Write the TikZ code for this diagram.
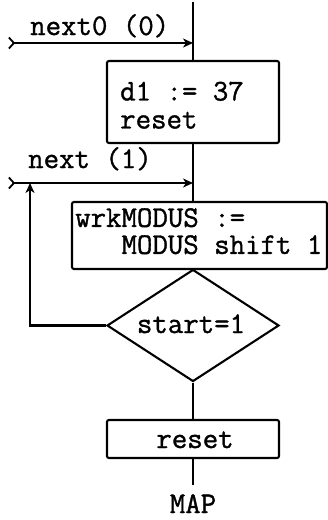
\documentclass[tikz,border=0pt]{standalone}
\usepackage{fontspec}
\setmonofont{Latin Modern Mono}[FakeBold=1.2]
\usetikzlibrary{arrows.meta,shapes.geometric}

\tikzset{
  flow/.style={line width=2.1pt},
  tip/.style={-{Stealth[length=10pt,width=9pt,inset=3pt]}},
  entry/.style={flow, {Straight Barb[reversed,length=5pt,width=11pt,line width=1.8pt]}-{Stealth[length=10pt,width=9pt,inset=3pt]}},
  stepbox/.style={draw, line width=2.1pt, rounded corners=2pt, inner sep=0pt},
  decision/.style={draw, diamond, line width=2.1pt, inner sep=0pt},
  txt/.style={font=\ttfamily\fontsize{30pt}{33pt}\selectfont, inner sep=0pt, anchor=base west},
  block/.style={txt, align=left, anchor=north west},
}

\begin{document}
\begin{tikzpicture}[x=1pt, y=-1pt]
  \useasboundingbox (0,0) rectangle (328,520);

  % processing steps
  \node[stepbox, minimum width=172pt, minimum height=82pt] (b1) at (193,102) {};
  \node[stepbox, minimum width=255pt, minimum height=67pt] (b2) at (199.5,235.5) {};
  \node[decision, minimum width=172pt, minimum height=112pt] (d1) at (193,325.5) {};
  \node[stepbox, minimum width=172pt, minimum height=38pt] (b3) at (193,439) {};

  % texts
  \node[txt] (l0) at (30,35) {next0 (0)};
  \node[block, font=\ttfamily\fontsize{30pt}{28pt}\selectfont] (t1) at (120,81.5)
    {d1 := 37\\reset};
  \node[txt] (l1) at (28,168) {next (1)};
  \node[block, font=\ttfamily\fontsize{30pt}{27pt}\selectfont] (t3) at (75,208)
    {wrkMODUS :=\\\phantom{MMM}MODUS shift 1};
  \node[txt, anchor=base] (t5) at (191,333) {start=1};
  \node[txt, anchor=base] (t6) at (195,448) {reset};
  \node[txt, anchor=base] (map) at (193,513) {MAP};

  % connector points
  \coordinate (top) at (193,2);
  \coordinate (in0) at (8,43);
  \coordinate (j0) at (193,43);
  \coordinate (in1) at (8,183);
  \coordinate (j1) at (193,183);
  \coordinate (lp) at (30,325.5);
  \coordinate (lpt) at (30,183);
  \coordinate (out) at (193,485);

  % main flow
  \draw[flow] (top) -- (b1.north);
  \draw[flow] (b1.south) -- (b1.south |- b2.north);
  \draw[flow] (b2.south -| d1.north) -- (d1.north);
  \draw[flow] (d1.south) -- (b3.north);
  \draw[flow] (b3.south) -- (out);

  % entries
  \draw[entry] (in0) -- (j0);
  \draw[entry] (in1) -- (j1);

  % loop back
  \draw[flow, tip] (d1.west) -- (lp) -- (lpt);
\end{tikzpicture}
\end{document}
